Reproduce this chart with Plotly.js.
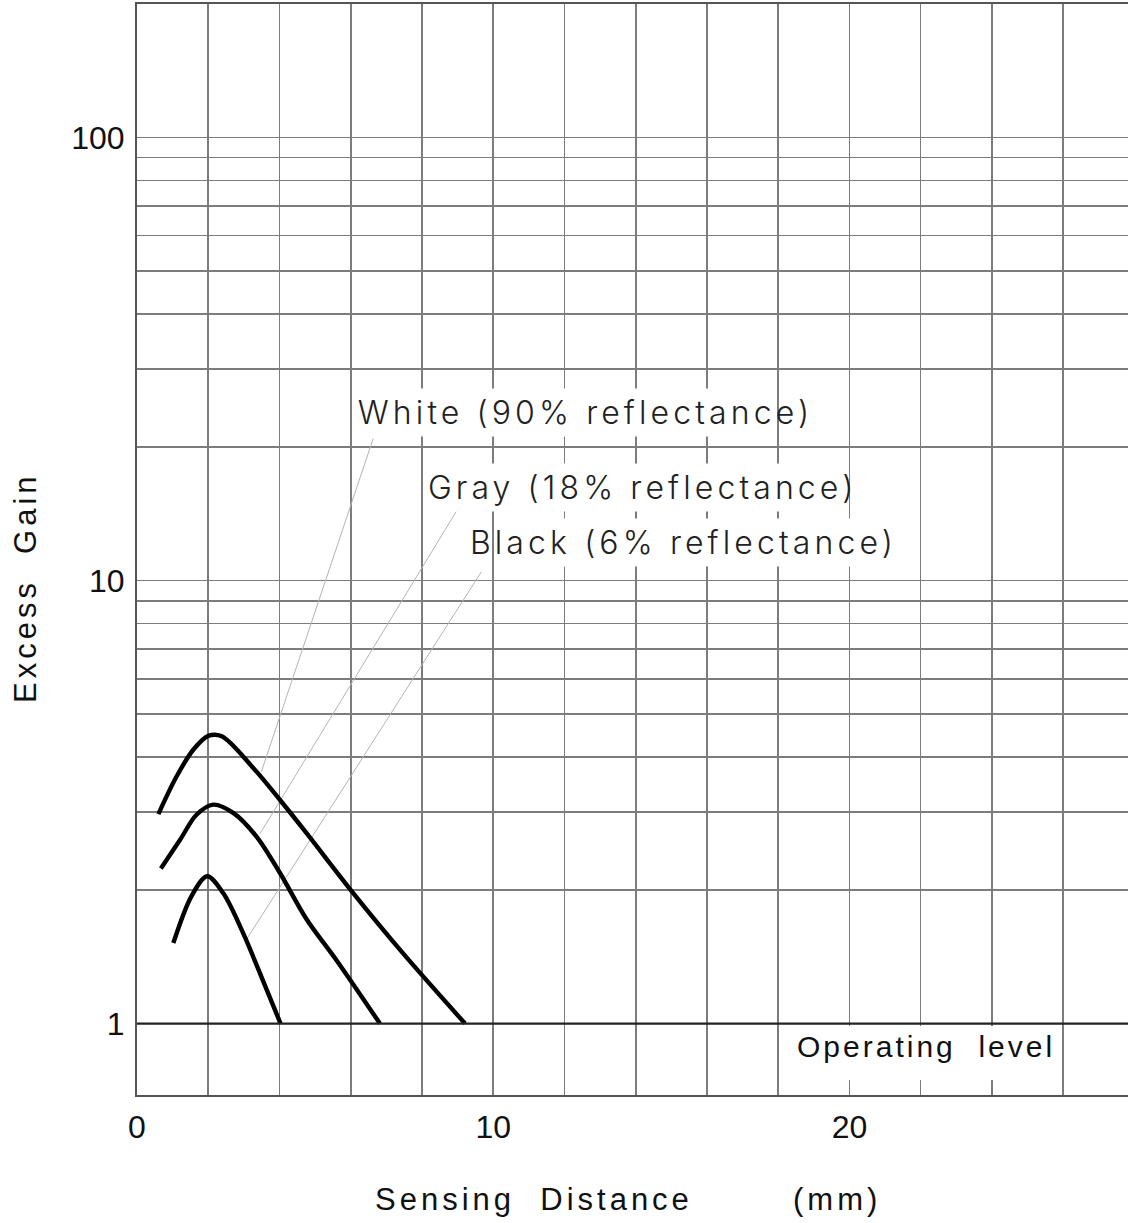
<!DOCTYPE html>
<html>
<head>
<meta charset="utf-8">
<script src="https://cdn.plot.ly/plotly-3.0.1.min.js"></script>
<style>
  html, body { margin: 0; padding: 0; background: #fff; }
  #chart { width: 1128px; height: 1223px; }
  .annotation[data-index="0"] .annotation-text,
  .annotation[data-index="1"] .annotation-text,
  .annotation[data-index="2"] .annotation-text { letter-spacing: 4.1px; }
  .annotation[data-index="3"] .annotation-text { letter-spacing: 3px; }
  .annotation[data-index="4"] .annotation-text,
  .annotation[data-index="5"] .annotation-text,
  .annotation[data-index="6"] .annotation-text { letter-spacing: 4px; }
</style>
</head>
<body>
<div id="chart"></div>
<script>
// ---- data ----
const whiteX = [0.6, 1.11, 1.58, 2.0, 2.38, 3.27, 4.01, 4.76, 6.07, 7.47, 9.21];
const whiteY = [2.97, 3.61, 4.15, 4.46, 4.45, 3.77, 3.20, 2.69, 1.97, 1.44, 1.0];

const grayX = [0.67, 1.21, 1.67, 2.14, 2.70, 3.36, 4.01, 4.76, 5.6, 6.82];
const grayY = [2.24, 2.60, 2.96, 3.12, 2.99, 2.64, 2.19, 1.72, 1.39, 1.0];

const blackX = [1.02, 1.53, 1.97, 2.42, 2.98, 3.45, 4.03];
const blackY = [1.52, 1.94, 2.15, 1.97, 1.60, 1.30, 1.0];

// leader lines: [label end, curve end]
const whiteLeaderX = [6.63, 3.49];
const whiteLeaderY = [20.9, 3.70];
const grayLeaderX = [8.96, 3.45];
const grayLeaderY = [14.3, 2.68];
const blackLeaderX = [9.67, 3.09];
const blackLeaderY = [10.47, 1.555];

const seriesLabels = ["White (90% reflectance)", "Gray (18% reflectance)", "Black (6% reflectance)"];
const labelX = [12.6, 14.19, 15.35];
const labelY = [24.0, 16.2, 12.2];

const xTickVals = [0, 2, 4, 6, 8, 10, 12, 14, 16, 18, 20, 22, 24, 26];
const xTickText = ["0", "", "", "", "", "10", "", "", "", "", "20", "", "", ""];
const yTickVals = [1, 2, 3, 4, 5, 6, 7, 8, 9, 10, 20, 30, 40, 50, 60, 70, 80, 90, 100, 200];
const yTickText = ["1", "", "", "", "", "", "", "", "", "10", "", "", "", "", "", "", "", "", "100", ""];

const operatingLevel = 1;
const xRange = [0, 27.82];
const yRange = [0.69, 200];

// ---- traces ----
const curveLine = { color: "#000", width: 4.4, shape: "spline", smoothing: 0.9 };
const leaderLine = { color: "#b4b4b4", width: 1 };

const traces = [
  { x: whiteLeaderX, y: whiteLeaderY, mode: "lines", line: leaderLine, hoverinfo: "skip" },
  { x: grayLeaderX, y: grayLeaderY, mode: "lines", line: leaderLine, hoverinfo: "skip" },
  { x: blackLeaderX, y: blackLeaderY, mode: "lines", line: leaderLine, hoverinfo: "skip" },
  { x: whiteX, y: whiteY, mode: "lines", line: curveLine, name: seriesLabels[0] },
  { x: grayX, y: grayY, mode: "lines", line: curveLine, name: seriesLabels[1] },
  { x: blackX, y: blackY, mode: "lines", line: curveLine, name: seriesLabels[2] }
];

const tickFont = { family: "Liberation Sans, Arial, sans-serif", size: 32, color: "#111" };
const titleFont = { family: "Liberation Sans, Arial, sans-serif", size: 31, color: "#111" };
const labelFont = { family: "Inter, Noto Sans, sans-serif", size: 32, color: "#222", weight: 300 };

const annotations = seriesLabels.map((t, i) => ({
  text: t, x: labelX[i], y: Math.log10(labelY[i]), xref: "x", yref: "y",
  showarrow: false, font: labelFont, bgcolor: "#fff", borderpad: 4,
  xanchor: "center", yanchor: "middle"
}));
annotations.push(
  { text: "Operating\u00A0 level", x: 22.14, y: Math.log10(0.89), xref: "x", yref: "y",
    showarrow: false, font: { family: "Liberation Sans, Arial, sans-serif", size: 30, color: "#111" },
    xanchor: "center", yanchor: "middle" },
  { text: "Sensing\u00A0 Distance", x: 0.4006, y: -0.0962, xref: "paper", yref: "paper",
    showarrow: false, font: titleFont, xanchor: "center", yanchor: "middle" },
  { text: "(mm)", x: 0.7064, y: -0.0962, xref: "paper", yref: "paper",
    showarrow: false, font: titleFont, xanchor: "center", yanchor: "middle" },
  { text: "Excess\u00A0 Gain", x: -0.113, y: 0.4647, xref: "paper", yref: "paper",
    showarrow: false, font: titleFont, textangle: -90, xanchor: "center", yanchor: "middle" }
);

const layout = {
  width: 1128, height: 1223,
  margin: { l: 137, r: 0, t: 4, b: 128 },
  paper_bgcolor: "#fff", plot_bgcolor: "#fff",
  showlegend: false,
  xaxis: {
    range: xRange, tickmode: "array", tickvals: xTickVals, ticktext: xTickText,
    showgrid: true, gridcolor: "#7c7c7c", gridwidth: 1.6, zeroline: false,
    showline: true, linecolor: "#555", linewidth: 2, mirror: true,
    ticks: "", tickfont: tickFont, ticklabelstandoff: 3, fixedrange: true
  },
  yaxis: {
    type: "log", range: [Math.log10(yRange[0]), Math.log10(yRange[1])],
    tickmode: "array", tickvals: yTickVals, ticktext: yTickText,
    showgrid: true, gridcolor: "#7c7c7c", gridwidth: 1.6, zeroline: false,
    showline: true, linecolor: "#555", linewidth: 2,
    ticks: "", tickfont: tickFont, ticklabelstandoff: 4, fixedrange: true
  },
  shapes: [
    { type: "rect", xref: "x", yref: "paper", x0: 18.05, x1: 25.96, y0: 0.0137, y1: 0.0632,
      fillcolor: "#fff", line: { width: 0 }, layer: "above" },
    { type: "line", xref: "paper", yref: "y", x0: 0, x1: 1, y0: operatingLevel, y1: operatingLevel,
      line: { color: "#222", width: 2.4 }, layer: "above" }
  ],
  annotations: annotations
};

Plotly.newPlot("chart", traces, layout, { displayModeBar: false, staticPlot: true });
</script>
</body>
</html>
